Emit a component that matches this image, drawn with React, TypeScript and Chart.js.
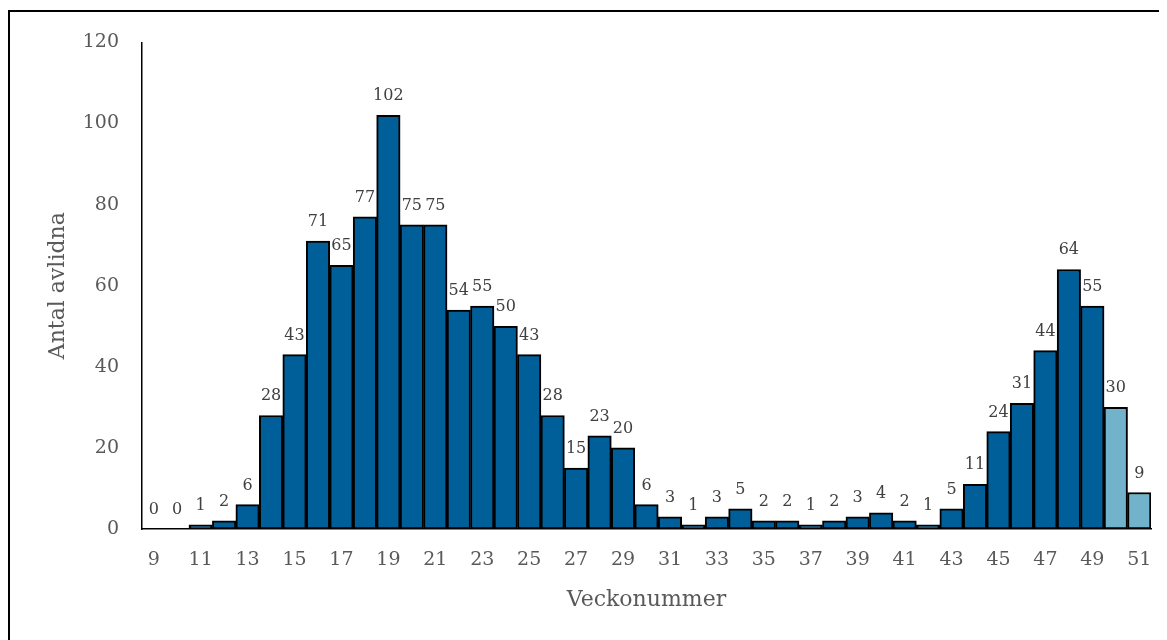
import React, { useEffect, useRef } from "react";
import { Chart, registerables } from "chart.js";

Chart.register(...registerables);

const weeks: string[] = [
  "9", "10", "11", "12", "13", "14", "15", "16", "17", "18", "19", "20", "21", "22",
  "23", "24", "25", "26", "27", "28", "29", "30", "31", "32", "33", "34", "35", "36",
  "37", "38", "39", "40", "41", "42", "43", "44", "45", "46", "47", "48", "49", "50", "51",
];
const deaths: number[] = [
  0, 0, 1, 2, 6, 28, 43, 71, 65, 77, 102, 75, 75, 54,
  55, 50, 43, 28, 15, 23, 20, 6, 3, 1, 3, 5, 2, 2,
  1, 2, 3, 4, 2, 1, 5, 11, 24, 31, 44, 64, 55, 30, 9,
];
const preliminaryWeeks: string[] = ["50", "51"];
const yTicks: number[] = [0, 20, 40, 60, 80, 100, 120];

const FONT = "'DejaVu Serif', serif";
const DARK = "#005F99";
const LIGHT = "#72B2CA";

const labelPlugin = {
  id: "barValueLabels",
  afterDatasetsDraw(chart: any) {
    const ctx = chart.ctx;
    const meta = chart.getDatasetMeta(0);
    const data = chart.data.datasets[0].data as number[];
    ctx.save();
    ctx.font = `16px ${FONT}`;
    ctx.fillStyle = "#404040";
    ctx.textAlign = "center";
    ctx.textBaseline = "alphabetic";
    meta.data.forEach((el: any, i: number) => {
      ctx.fillText(String(data[i]), el.x, el.y - 15);
    });
    ctx.restore();
  },
};

export default function App() {
  const canvasRef = useRef<HTMLCanvasElement | null>(null);

  useEffect(() => {
    document.documentElement.style.overflow = "hidden";
    document.body.style.overflow = "hidden";
    const canvas = canvasRef.current;
    if (!canvas) return;
    const colors = weeks.map((w) => (preliminaryWeeks.includes(w) ? LIGHT : DARK));
    const chart = new Chart(canvas, {
      type: "bar",
      data: {
        labels: weeks,
        datasets: [
          {
            data: deaths,
            backgroundColor: colors,
            borderColor: "#000000",
            borderWidth: 2,
            borderSkipped: false,
            categoryPercentage: 1,
            barPercentage: 1,
          },
        ],
      },
      options: {
        animation: false,
        responsive: false,
        maintainAspectRatio: false,
        layout: { padding: { top: 33, right: 16, bottom: 0, left: 0 } },
        plugins: {
          legend: { display: false },
          tooltip: { enabled: false },
        },
        scales: {
          x: {
            grid: { display: false, drawTicks: false },
            border: { display: true, color: "#000000", width: 1.5 },
            ticks: {
              autoSkip: false,
              maxRotation: 0,
              padding: 20,
              color: "#595959",
              font: { family: FONT, size: 19 },
              callback: (_v: any, i: number) => (i % 2 === 0 ? weeks[i] : ""),
            },
            title: {
              display: true,
              text: "Veckonummer",
              color: "#595959",
              font: { family: FONT, size: 22 },
              padding: { top: 0, bottom: 27 },
            },
            afterFit: (axis: any) => {
              axis.height = 111;
              axis.paddingLeft = 0;
              axis.paddingRight = 0;
            },
          },
          y: {
            min: 0,
            max: 120,
            grid: { display: false, drawTicks: false },
            border: { display: true, color: "#000000", width: 1.5 },
            afterBuildTicks: (axis: any) => {
              axis.ticks = yTicks.map((v) => ({ value: v }));
            },
            ticks: {
              padding: 23,
              color: "#595959",
              font: { family: FONT, size: 19 },
            },
            title: {
              display: true,
              text: "Antal avlidna",
              color: "#595959",
              font: { family: FONT, size: 22 },
              padding: { top: 37, bottom: 0 },
            },
            afterFit: (axis: any) => {
              axis.width = 134;
            },
          },
        },
      },
      plugins: [labelPlugin],
    });
    return () => chart.destroy();
  }, []);

  return (
    <div style={{ position: "relative", width: 1159, height: 632, overflow: "hidden" }}>
      <div
        style={{
          position: "absolute",
          left: 0,
          top: 2,
          width: 1200,
          height: 700,
          border: "2px solid #000",
          boxSizing: "border-box",
        }}
      />
      <canvas
        ref={canvasRef}
        width={1159}
        height={632}
        style={{ position: "absolute", left: 0, top: 0, width: 1159, height: 632 }}
      />
    </div>
  );
}
